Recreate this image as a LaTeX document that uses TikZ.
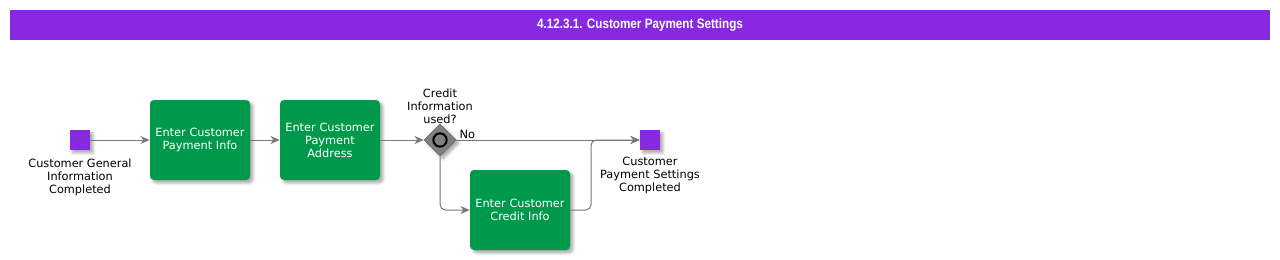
\documentclass[tikz,border=0pt]{standalone}
\usepackage{fontspec}
\setmainfont{DejaVu Sans}
\newfontfamily\titlefont[FakeStretch=0.86]{Liberation Sans}
\usepackage{tikz}
\usetikzlibrary{shapes.geometric,arrows.meta,positioning,calc,shadows.blur}
\definecolor{flowpurple}{RGB}{134,41,224}
\definecolor{taskgreen}{RGB}{0,153,76}
\definecolor{gatewaygray}{RGB}{128,128,128}
\definecolor{linegray}{RGB}{120,120,120}

\tikzset{
    softshadow/.style={blur shadow={shadow xshift=2.2pt, shadow yshift=-2.2pt, shadow blur steps=5, shadow opacity=35}},
    taskbox/.style={rounded corners=3pt, fill=taskgreen, text=white, minimum width=75pt, minimum height=60pt,
        text width=72pt, align=center, inner sep=0pt, font=\fontsize{8.5}{9.75}\selectfont, softshadow},
    eventbox/.style={fill=flowpurple, minimum size=15pt, inner sep=0pt, softshadow},
    gatewaybox/.style={diamond, fill=gatewaygray, draw=gatewaygray!80!black, minimum size=24pt, inner sep=0pt, softshadow},
    flowlabel/.style={align=center, font=\fontsize{8.5}{9.75}\selectfont, inner sep=1pt},
    flow/.style={draw=linegray, line width=0.75pt, -{Stealth[length=7pt, width=6pt]}}
}

\begin{document}
\begin{tikzpicture}[x=0.75pt, y=-0.75pt]
            \useasboundingbox (0,0) rectangle (1280,260);
            % title bar
            \node[fill=flowpurple, minimum width=945pt, minimum height=22.5pt, inner sep=0pt,
                text=white, font=\titlefont\bfseries\fontsize{10.2}{11}\selectfont] (title) at (640,25)
                {4.12.3.1. Customer Payment Settings};

            % events and tasks
            \node[eventbox] (start) at (80,140) {};
            \node[flowlabel, below=5pt of start] (startlabel) {Customer General\\Information\\Completed};
            \node[taskbox] (payinfo) at (200,140) {Enter Customer\\Payment Info};
            \node[taskbox] (payaddr) at (330,140) {Enter Customer\\Payment\\Address};
            \node[gatewaybox] (credit) at (440,140) {};
            \node[circle, draw=black, line width=1.5pt, fill=gatewaygray, minimum size=10pt, inner sep=0pt] (creditmark) at (credit) {};
            \node[flowlabel, above=-1pt of credit] (creditlabel) {Credit\\Information\\used?};
            \node[taskbox] (creditinfo) at (520,210) {Enter Customer\\Credit Info};
            \node[eventbox] (done) at (650,140) {};
            \node[flowlabel, below=4pt of done] (donelabel) {Customer\\Payment Settings\\Completed};
            \coordinate (merge) at (591,140);

            % sequence flows
            \draw[flow] (start) -- (payinfo);
            \draw[flow] (payinfo) -- (payaddr);
            \draw[flow] (payaddr) -- (credit);
            \draw[flow] (credit) -- node[flowlabel, pos=0.06, anchor=south] {No} (done);
            \draw[flow, rounded corners=4pt] (credit.south) |- (creditinfo.west);
            \draw[flow, rounded corners=4pt] (creditinfo.east) -| (merge) -- (done.west);
\end{tikzpicture}
\end{document}
